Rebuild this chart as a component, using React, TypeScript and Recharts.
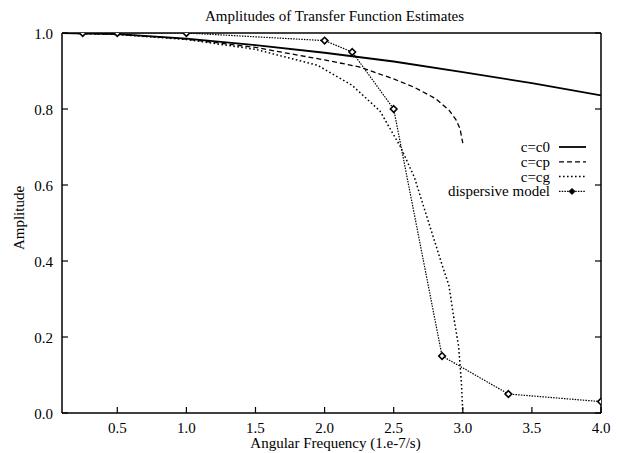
import { LineChart, Line, XAxis, YAxis, Legend } from 'recharts';

// c = c0
const c0Freq = [0.1, 0.5, 1.0, 1.5, 2.0, 2.5, 3.0, 3.5, 4.0];
const c0Amp = [1.0, 0.997, 0.985, 0.968, 0.948, 0.925, 0.897, 0.868, 0.836];

// c = cp
const cpFreq = [0.1, 0.5, 1.0, 1.5, 2.0, 2.25, 2.5, 2.65, 2.8, 2.9, 2.95, 2.98, 3.0];
const cpAmp = [1.0, 0.997, 0.984, 0.962, 0.929, 0.911, 0.879, 0.857, 0.828, 0.797, 0.772, 0.748, 0.71];

// c = cg
const cgFreq = [0.1, 0.5, 1.0, 1.5, 1.95, 2.2, 2.4, 2.55, 2.65, 2.75, 2.85, 2.9, 2.93, 2.97, 2.99, 3.0];
const cgAmp = [1.0, 0.996, 0.983, 0.957, 0.915, 0.862, 0.795, 0.7, 0.62, 0.505, 0.39, 0.335, 0.262, 0.175, 0.08, 0.0];

// dispersive model
const dispFreq = [0.25, 0.5, 1.0, 2.0, 2.2, 2.5, 2.85, 3.33, 4.0];
const dispAmp = [1.0, 1.0, 1.0, 0.98, 0.95, 0.8, 0.15, 0.05, 0.03];

const xTicks = [0.5, 1.0, 1.5, 2.0, 2.5, 3.0, 3.5, 4.0];
const yTicks = [0.0, 0.2, 0.4, 0.6, 0.8, 1.0];

const toPoints = (xs: number[], ys: number[]) => xs.map((x, i) => ({ x, y: ys[i] }));

const FONT = '"Liberation Serif", "DejaVu Serif", serif';
const FS = 15;

// plot box edges (from chart margins + axis sizes)
const TOP = 33;
const BOTTOM = 413;
const LEFT = 62;
const RIGHT = 601;
const TICK = 6;

const series = [
  { name: 'c=c0', data: toPoints(c0Freq, c0Amp), dash: undefined, width: 1.8, dot: false },
  { name: 'c=cp', data: toPoints(cpFreq, cpAmp), dash: '5 3', width: 1.3, dot: false },
  { name: 'c=cg', data: toPoints(cgFreq, cgAmp), dash: '1.6 2.4', width: 1.5, dot: false },
  { name: 'dispersive model', data: toPoints(dispFreq, dispAmp), dash: '1.5 1.2', width: 1.2, dot: true },
];

const Diamond = (props: any) => {
  const { cx, cy, index } = props;
  if (cx == null || cy == null) return <g key={index} />;
  const r = 3.3;
  return (
    <path
      key={index}
      d={`M${cx},${cy - r} L${cx + r},${cy} L${cx},${cy + r} L${cx - r},${cy} Z`}
      fill="#fff"
      stroke="#000"
      strokeWidth={1.6}
    />
  );
};

const BottomTick = (props: any) => {
  const x = props.payload.coordinate;
  return (
    <g>
      <line x1={x} x2={x} y1={BOTTOM} y2={BOTTOM - TICK} stroke="#000" strokeWidth={1.2} />
      <text x={x} y={433} textAnchor="middle" fontFamily={FONT} fontSize={FS} fill="#000">
        {Number(props.payload.value).toFixed(1)}
      </text>
    </g>
  );
};

const TopTick = (props: any) => {
  const x = props.payload.coordinate;
  return <line x1={x} x2={x} y1={TOP} y2={TOP + TICK} stroke="#000" strokeWidth={1.2} />;
};

const LeftTick = (props: any) => {
  const y = props.payload.coordinate;
  return (
    <g>
      <line x1={LEFT} x2={LEFT + TICK} y1={y} y2={y} stroke="#000" strokeWidth={1.2} />
      <text x={53} y={y + 5.5} textAnchor="end" fontFamily={FONT} fontSize={FS} fill="#000">
        {Number(props.payload.value).toFixed(1)}
      </text>
    </g>
  );
};

const RightTick = (props: any) => {
  const y = props.payload.coordinate;
  return <line x1={RIGHT} x2={RIGHT - TICK} y1={y} y2={y} stroke="#000" strokeWidth={1.2} />;
};

const LegendBox = () => (
  <svg width={180} height={66} style={{ display: 'block' }}>
    {series.map((s, i) => {
      const cy = 9 + i * 14.8;
      return (
        <g key={s.name}>
          <text x={120} y={cy + 5} textAnchor="end" fontFamily={FONT} fontSize={FS} fill="#000">
            {s.name}
          </text>
          <line x1={129} x2={156} y1={cy} y2={cy} stroke="#000" strokeWidth={s.width} strokeDasharray={s.dash} />
          {s.dot && (
            <path d={`M142,${cy - 3} L145,${cy} L142,${cy + 3} L139,${cy} Z`} fill="#000" stroke="#000" />
          )}
        </g>
      );
    })}
  </svg>
);

const YLabel = () => (
  <text x={19} y={218} transform="rotate(-90, 19, 218)" textAnchor="middle" dominantBaseline="central"
    fontFamily={FONT} fontSize={FS} fill="#000">
    Amplitude
  </text>
);

const labelStyle = { fontFamily: FONT, fontSize: FS, fill: '#000' };

export default function App() {
  return (
    <div style={{ position: 'absolute', left: 0, top: 0, background: '#fff' }}>
      <LineChart width={621} height={453} margin={{ top: 32, right: 19, left: 12, bottom: 0 }}>
        <XAxis
          xAxisId="bottom"
          dataKey="x"
          type="number"
          domain={[0.1, 4.0]}
          ticks={xTicks}
          allowDataOverflow
          height={40}
          tickSize={0}
          tickLine={false}
          tick={<BottomTick />}
          stroke="#000"
          strokeWidth={1.5}
          label={{ value: 'Angular Frequency (1.e-7/s)', position: 'insideBottom', offset: 5, dx: 4, style: labelStyle }}
        />
        <XAxis
          xAxisId="top"
          orientation="top"
          type="number"
          domain={[0.1, 4.0]}
          ticks={xTicks}
          allowDataOverflow
          height={1}
          tickSize={0}
          tickLine={false}
          tick={<TopTick />}
          stroke="#000"
          strokeWidth={1.5}
          label={{ value: 'Amplitudes of Transfer Function Estimates', position: 'top', offset: 11, dx: 3, style: labelStyle }}
        />
        <YAxis
          yAxisId="left"
          type="number"
          domain={[0, 1]}
          ticks={yTicks}
          allowDataOverflow
          width={50}
          tickSize={0}
          tickLine={false}
          tick={<LeftTick />}
          stroke="#000"
          strokeWidth={1.5}
          label={<YLabel />}
        />
        <YAxis
          yAxisId="right"
          orientation="right"
          type="number"
          domain={[0, 1]}
          ticks={yTicks}
          allowDataOverflow
          width={1}
          tickSize={0}
          tickLine={false}
          tick={<RightTick />}
          stroke="#000"
          strokeWidth={1.5}
        />
        {series.map((s) => (
          <Line
            key={s.name}
            xAxisId="bottom"
            yAxisId="left"
            data={s.data}
            dataKey="y"
            name={s.name}
            type="linear"
            stroke="#000"
            strokeWidth={s.width}
            strokeDasharray={s.dash}
            dot={s.dot ? <Diamond /> : false}
            activeDot={false}
            isAnimationActive={false}
          />
        ))}
        <Legend
          layout="horizontal"
          verticalAlign="middle"
          align="center"
          content={() => <LegendBox />}
          wrapperStyle={{ position: 'absolute', left: 430, top: 138, width: 180, height: 66 }}
        />
      </LineChart>
    </div>
  );
}
